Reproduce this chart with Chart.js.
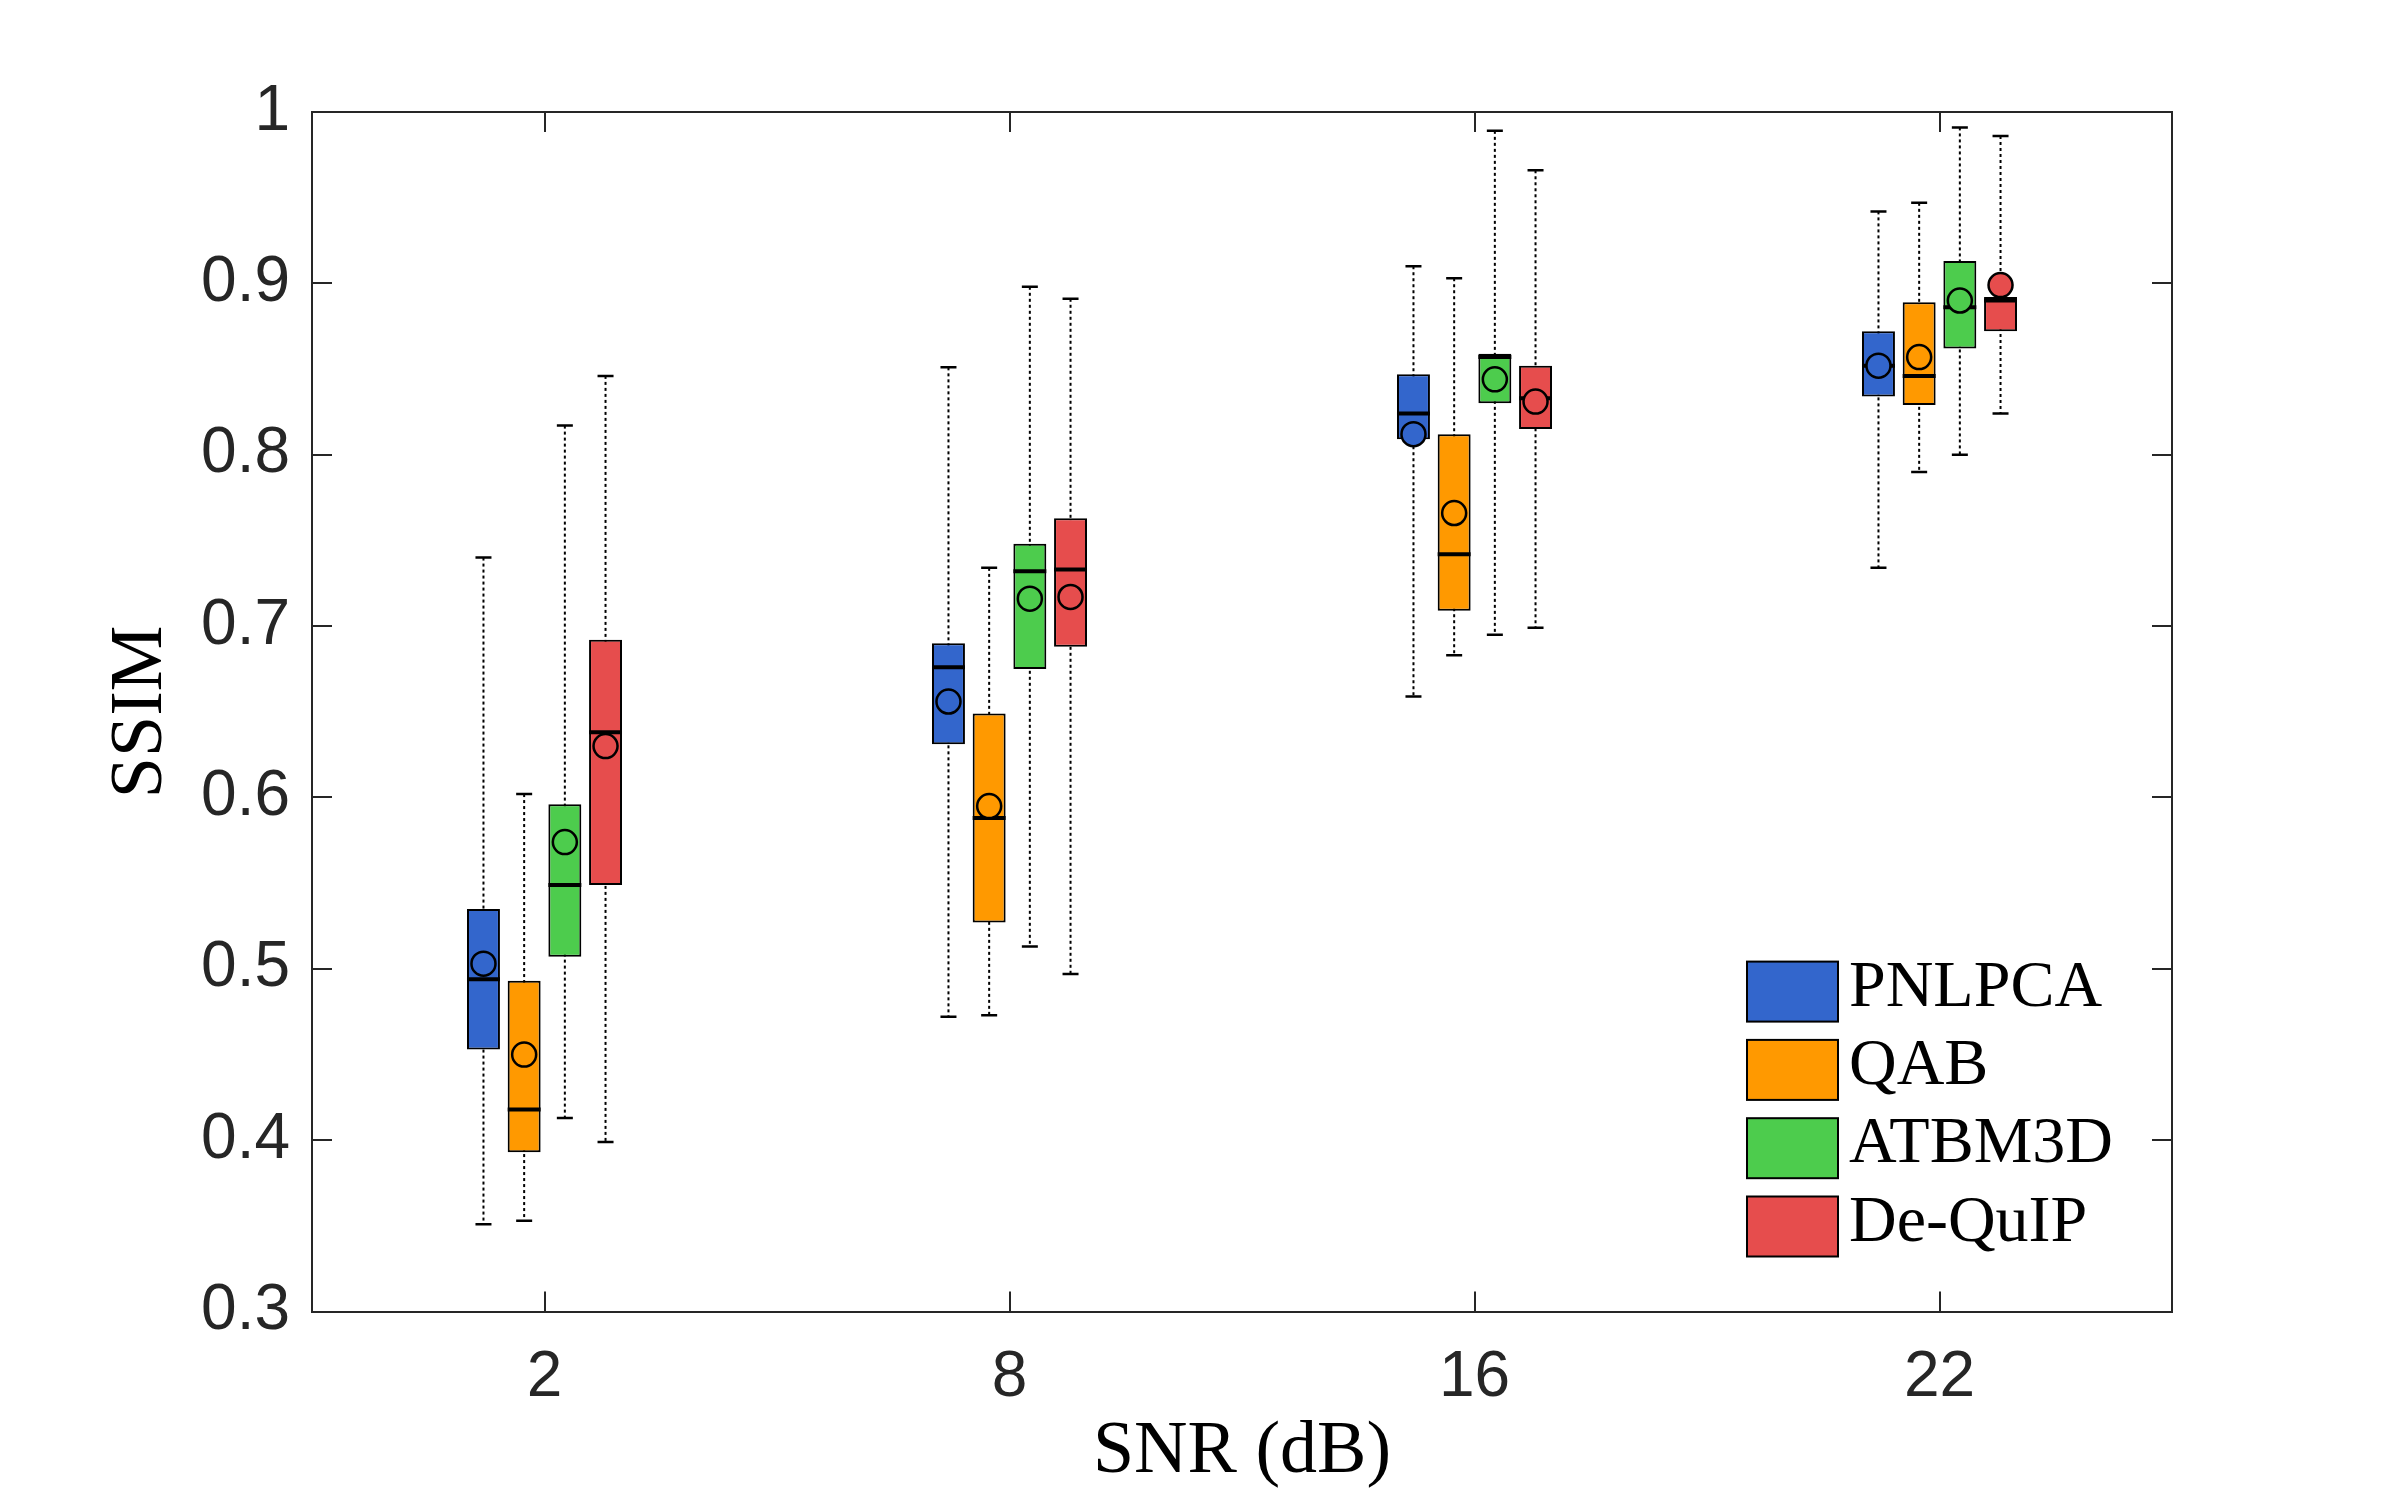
<!DOCTYPE html>
<html lang="en">
<head>
<meta charset="UTF-8">
<title>SSIM vs SNR</title>
<script src="https://cdn.jsdelivr.net/npm/chart.js@4.4.1/dist/chart.umd.min.js"></script>
<style>
  body { margin: 0; background: #fff; }
  #wrap { width: 2400px; height: 1500px; }
</style>
</head>
<body>
<div id="wrap"><canvas id="ssimChart" width="2400" height="1500"></canvas></div>
<script>
const snrLabels = ['2', '8', '16', '22'];
const methods = ['PNLPCA', 'QAB', 'ATBM3D', 'De-QuIP'];
const methodColors = ['#3366cc', '#ff9900', '#4dcc4d', '#e64d4d'];

// one row per method, one column per SNR level
const whiskerLow = [
  [0.351, 0.472, 0.659, 0.734],
  [0.353, 0.473, 0.683, 0.790],
  [0.413, 0.513, 0.695, 0.800],
  [0.399, 0.497, 0.699, 0.824]
];
const quart1 = [
  [0.453, 0.631, 0.809, 0.834],
  [0.393, 0.527, 0.709, 0.829],
  [0.507, 0.675, 0.830, 0.862],
  [0.549, 0.688, 0.815, 0.872]
];
const medians = [
  [0.494, 0.676, 0.824, 0.852],
  [0.418, 0.588, 0.742, 0.846],
  [0.549, 0.732, 0.857, 0.886],
  [0.638, 0.733, 0.833, 0.890]
];
const means = [
  [0.503, 0.656, 0.812, 0.852],
  [0.450, 0.595, 0.766, 0.857],
  [0.574, 0.716, 0.844, 0.890],
  [0.630, 0.717, 0.831, 0.899]
];
const quart3 = [
  [0.535, 0.690, 0.847, 0.872],
  [0.493, 0.649, 0.812, 0.889],
  [0.596, 0.748, 0.859, 0.913],
  [0.692, 0.763, 0.852, 0.892]
];
const whiskerHigh = [
  [0.740, 0.851, 0.910, 0.942],
  [0.602, 0.734, 0.903, 0.947],
  [0.817, 0.898, 0.989, 0.991],
  [0.846, 0.891, 0.966, 0.986]
];

const axisColor = '#262626';
const sans = "'Liberation Sans', Arial, sans-serif";
const serif = "'Liberation Serif', 'Times New Roman', serif";

// whiskers behind the boxes, medians and means on top
const boxExtras = {
  id: 'boxExtras',
  beforeDatasetsDraw(chart) {
    const ctx = chart.ctx;
    const y = chart.scales.y;
    ctx.save();
    ctx.strokeStyle = '#000';
    chart.data.datasets.forEach((ds, i) => {
      chart.getDatasetMeta(i).data.forEach((bar, j) => {
        const top = y.getPixelForValue(whiskerHigh[i][j]);
        const bot = y.getPixelForValue(whiskerLow[i][j]);
        ctx.lineWidth = 2;
        ctx.setLineDash([3, 3]);
        ctx.beginPath();
        ctx.moveTo(bar.x, top);
        ctx.lineTo(bar.x, bot);
        ctx.stroke();
        ctx.setLineDash([]);
        ctx.lineWidth = 2.5;
        ctx.beginPath();
        ctx.moveTo(bar.x - 8, top); ctx.lineTo(bar.x + 8, top);
        ctx.moveTo(bar.x - 8, bot); ctx.lineTo(bar.x + 8, bot);
        ctx.stroke();
      });
    });
    ctx.restore();
  },
  afterDatasetsDraw(chart) {
    const ctx = chart.ctx;
    const y = chart.scales.y;
    ctx.save();
    ctx.strokeStyle = '#000';
    chart.data.datasets.forEach((ds, i) => {
      chart.getDatasetMeta(i).data.forEach((bar, j) => {
        const half = bar.width / 2;
        const my = y.getPixelForValue(medians[i][j]);
        ctx.lineWidth = 4;
        ctx.beginPath();
        ctx.moveTo(bar.x - half, my);
        ctx.lineTo(bar.x + half, my);
        ctx.stroke();
        const cy = y.getPixelForValue(means[i][j]);
        ctx.lineWidth = 2.5;
        ctx.fillStyle = methodColors[i];
        ctx.beginPath();
        ctx.arc(bar.x, cy, 12, 0, Math.PI * 2);
        ctx.fill();
        ctx.stroke();
      });
    });
    ctx.restore();
  }
};

// MATLAB-style legend in the lower right corner of the axes box
const cornerLegend = {
  id: 'cornerLegend',
  afterDraw(chart) {
    const ctx = chart.ctx;
    const area = chart.chartArea;
    const left = area.right - 425;
    const firstTop = area.bottom - 350;
    ctx.save();
    ctx.font = '66px ' + serif;
    ctx.textBaseline = 'alphabetic';
    ctx.textAlign = 'left';
    chart.data.datasets.forEach((ds, i) => {
      const top = firstTop + i * 78.3;
      ctx.fillStyle = ds.backgroundColor;
      ctx.fillRect(left, top, 91, 60);
      ctx.strokeStyle = '#000';
      ctx.lineWidth = 2;
      ctx.strokeRect(left, top, 91, 60);
      ctx.fillStyle = '#000';
      ctx.fillText(ds.label, left + 102, top + 44);
    });
    ctx.restore();
  }
};

const tickGrid = {
  display: true,
  drawOnChartArea: false,
  drawTicks: true,
  tickLength: -20,
  color: axisColor,
  lineWidth: 2,
  offset: false
};
const frame = { display: true, color: axisColor, width: 2 };

new Chart(document.getElementById('ssimChart'), {
  type: 'bar',
  data: {
    labels: snrLabels,
    datasets: methods.map((name, i) => ({
      label: name,
      data: quart1[i].map((q, j) => [q, quart3[i][j]]),
      backgroundColor: methodColors[i],
      borderColor: '#000',
      borderWidth: 2,
      borderSkipped: false,
      categoryPercentage: 0.35,
      barPercentage: 0.81
    }))
  },
  options: {
    responsive: false,
    devicePixelRatio: 1,
    animation: false,
    layout: { padding: { top: 112, right: 228, left: 0, bottom: 0 } },
    plugins: {
      tooltip: { enabled: false },
      legend: { display: false }
    },
    scales: {
      x: {
        position: 'bottom',
        offset: true,
        grid: tickGrid,
        border: frame,
        ticks: { color: axisColor, padding: 48, font: { family: sans, size: 64 } },
        title: {
          display: true,
          text: 'SNR (dB)',
          color: '#000',
          padding: { top: 0, bottom: 3 },
          font: { family: serif, size: 74 }
        },
        afterFit(s) { s.height = 188.4; }
      },
      x2: {
        type: 'category',
        labels: snrLabels,
        position: 'top',
        offset: true,
        grid: tickGrid,
        border: frame,
        ticks: { display: false },
        afterFit(s) { s.height = 0; }
      },
      y: {
        position: 'left',
        min: 0.3,
        max: 1,
        grid: tickGrid,
        border: frame,
        ticks: {
          stepSize: 0.1,
          color: axisColor,
          padding: 42,
          font: { family: sans, size: 64 },
          callback: v => String(+v.toFixed(1))
        },
        title: {
          display: true,
          text: 'SSIM',
          color: '#000',
          padding: { top: 97, bottom: 0 },
          font: { family: serif, size: 74 }
        },
        afterFit(s) { s.width = 312; }
      },
      y2: {
        type: 'linear',
        position: 'right',
        min: 0.3,
        max: 1,
        grid: tickGrid,
        border: frame,
        ticks: { stepSize: 0.1, display: false },
        afterFit(s) { s.width = 0; }
      }
    }
  },
  plugins: [boxExtras, cornerLegend]
});
</script>
</body>
</html>
